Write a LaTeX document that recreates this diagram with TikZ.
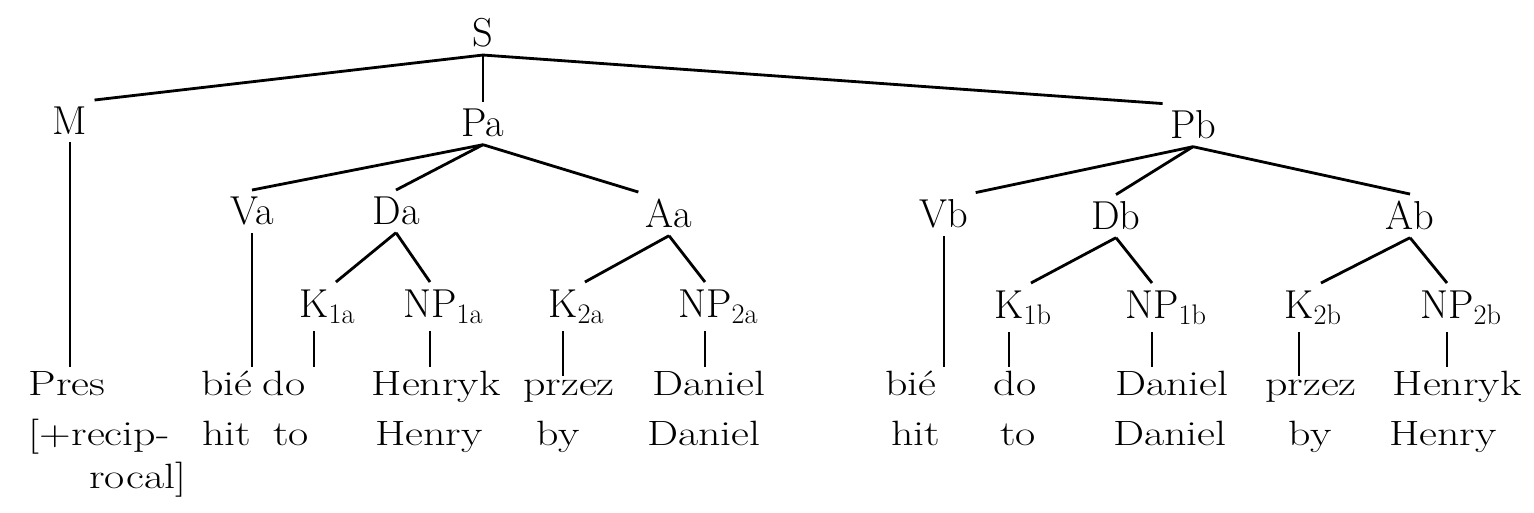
\documentclass[tikz,border=0pt]{standalone}
\usepackage{graphicx}
\usepackage{tikz}
\newcommand{\catsub}[1]{\rlap{\textsubscript{#1}}}
\newcommand{\wide}[1]{\scalebox{1.25}[1]{#1}}
\begin{document}
\begin{tikzpicture}[
  x=0.02cm, y=-0.02cm,
  cat/.style={inner sep=4pt,anchor=base,font=\fontsize{23}{26}\selectfont},
  word/.style={inner sep=2pt,anchor=base,font=\fontsize{20}{23}\selectfont},
  br/.style={line width=1.6pt}
]
\useasboundingbox (0,0) rectangle (1534,513);
\node[cat] (s) at (483,47) {S};
\node[cat] (m) at (70,135) {M};
\node[cat] (pa) at (483,137) {Pa};
\node[cat] (pb) at (1193,139) {Pb};
\node[cat] (va) at (252,225) {Va};
\node[cat] (da) at (396,225) {Da};
\node[cat] (aa) at (669,228) {Aa};
\node[cat] (vb) at (944,228) {Vb};
\node[cat] (db) at (1116,230) {Db};
\node[cat] (ab) at (1410,230) {Ab};
\node[cat] (k1a) at (314,317) {K\catsub{1a}};
\node[cat] (np1a) at (430,317) {NP\catsub{1a}};
\node[cat] (k2a) at (563,317) {K\catsub{2a}};
\node[cat] (np2a) at (705,317) {NP\catsub{2a}};
\node[cat] (k1b) at (1009,318) {K\catsub{1b}};
\node[cat] (np1b) at (1152,318) {NP\catsub{1b}};
\node[cat] (k2b) at (1299,318) {K\catsub{2b}};
\node[cat] (np2b) at (1447,318) {NP\catsub{2b}};
\node[word,anchor=base west] (pres) at (25,395) {\wide{Pres}};
\node[word,anchor=base west] (recip) at (25,445) {\wide{[+recip-}};
\node[word,anchor=base east] (rocal) at (190,488) {\wide{rocal]}};
\node[word] (bia) at (227,395) {\wide{bié}};
\node[word] (hita) at (227,445) {\wide{hit}};
\node[word] (doa) at (284,395) {\wide{do}};
\node[word] (toa) at (291,445) {\wide{to}};
\node[word] (heka) at (436,395) {\wide{Henryk}};
\node[word] (hya) at (429,445) {\wide{Henry}};
\node[word] (prza) at (569,395) {\wide{przez}};
\node[word] (bya) at (558,445) {\wide{by}};
\node[word] (dana) at (709,395) {\wide{Daniel}};
\node[word] (dnga) at (704,445) {\wide{Daniel}};
\node[word] (bib) at (911,395) {\wide{bié}};
\node[word] (hitb) at (916,445) {\wide{hit}};
\node[word] (dob) at (1015,395) {\wide{do}};
\node[word] (tob) at (1018,445) {\wide{to}};
\node[word] (danb) at (1172,395) {\wide{Daniel}};
\node[word] (dngb) at (1170,445) {\wide{Daniel}};
\node[word] (przb) at (1311,395) {\wide{przez}};
\node[word] (byb) at (1310,445) {\wide{by}};
\node[word] (hekb) at (1457,395) {\wide{Henryk}};
\node[word] (hyb) at (1443,445) {\wide{Henry}};
\draw[br] (s.south) -- (m.north east); \draw[br] (s.south) -- (pa.north); \draw[br] (s.south) -- (pb.north west);
\draw[br] (m.south) -- (m.south |- pres.north);
\draw[br] (pa.south) -- (va.north); \draw[br] (pa.south) -- (da.north); \draw[br] (pa.south) -- (aa.north west);
\draw[br] (pb.south) -- (vb.north east); \draw[br] (pb.south) -- (db.north); \draw[br] (pb.south) -- (ab.north);
\draw[br] (va.south) -- (va.south |- bia.north); \draw[br] (vb.south) -- (vb.south |- bib.north);
\draw[br] (da.south) -- (k1a.north east); \draw[br] (da.south) -- (np1a.north);
\draw[br] (aa.south) -- (k2a.north east); \draw[br] (aa.south) -- (np2a.north);
\draw[br] (db.south) -- (k1b.north east); \draw[br] (db.south) -- (np1b.north);
\draw[br] (ab.south) -- (k2b.north east); \draw[br] (ab.south) -- (np2b.north);
\draw[br] (k1a.south) -- (k1a.south |- doa.north); \draw[br] (np1a.south) -- (np1a.south |- heka.north);
\draw[br] (k2a.south) -- (k2a.south |- prza.north); \draw[br] (np2a.south) -- (np2a.south |- dana.north);
\draw[br] (k1b.south) -- (k1b.south |- dob.north); \draw[br] (np1b.south) -- (np1b.south |- danb.north);
\draw[br] (k2b.south) -- (k2b.south |- przb.north); \draw[br] (np2b.south) -- (np2b.south |- hekb.north);
\end{tikzpicture}
\end{document}
